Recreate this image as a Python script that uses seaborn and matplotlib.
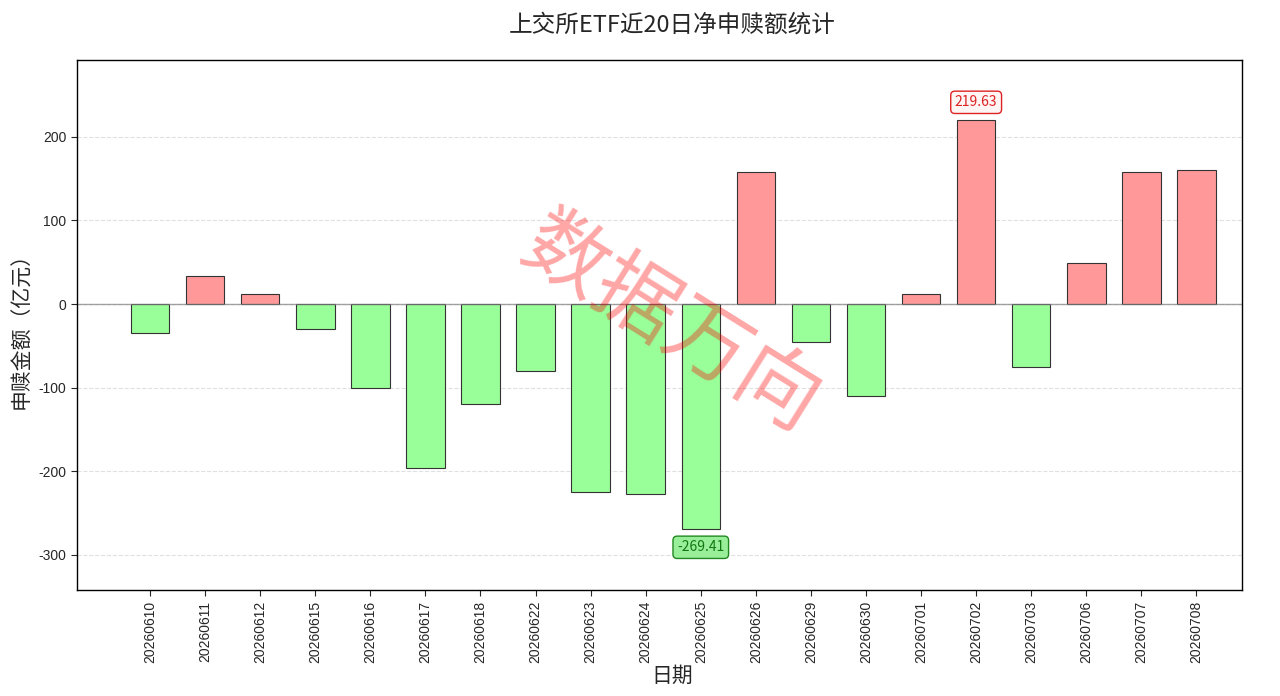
import numpy as np
import pandas as pd
import matplotlib
matplotlib.use("Agg")
import matplotlib.pyplot as plt
import seaborn as sns

sns.set_style("white")
plt.rcParams['font.family'] = ['Noto Sans CJK SC', 'DejaVu Sans']
plt.rcParams['axes.unicode_minus'] = False

dates = ['20260610', '20260611', '20260612', '20260615', '20260616',
         '20260617', '20260618', '20260622', '20260623', '20260624',
         '20260625', '20260626', '20260629', '20260630', '20260701',
         '20260702', '20260703', '20260706', '20260707', '20260708']
net_flow = [-35.0, 33.5, 12.5, -30.0, -100.5,
            -196.5, -119.5, -80.0, -225.0, -227.5,
            -269.41, 158.5, -45.5, -110.0, 12.5,
            219.63, -75.0, 49.0, 158.5, 160.5]

df = pd.DataFrame({'date': dates, 'flow': net_flow})
colors = ['#FF9999' if v > 0 else '#99FF99' for v in df['flow']]

fig, ax = plt.subplots(figsize=(12.8, 6.96), dpi=100)
sns.barplot(data=df, x='date', y='flow', hue='date', palette=colors,
            legend=False, width=0.7, edgecolor='#333333', linewidth=0.8,
            saturation=1, ax=ax)

ax.axhline(0, color='gray', linewidth=1, alpha=0.7)
ax.yaxis.grid(True, linestyle='--', color='#cccccc', alpha=0.6)
ax.set_axisbelow(True)
for s in ax.spines.values():
    s.set_color('black')
    s.set_linewidth(1)

n = len(dates)
ax.set_xlim(-1.33, n - 1 + 0.82)
ax.set_ylim(min(net_flow) * 1.271, max(net_flow) * 1.33)
ax.set_yticks([-300, -200, -100, 0, 100, 200])

ax.tick_params(axis='both', which='both', bottom=True, left=True, length=4, labelsize=10)
for lab in ax.get_xticklabels() + ax.get_yticklabels():
    lab.set_family(['Liberation Sans', 'DejaVu Sans'])
plt.setp(ax.get_xticklabels(), rotation=90)

ax.set_title('上交所ETF近20日净申赎额统计', fontsize=17, pad=20, x=0.511)
ax.set_xlabel('日期', fontsize=15)
ax.xaxis.set_label_coords(0.511, -0.14)
ax.set_ylabel('申赎金额（亿元）', fontsize=15)

imax = int(np.argmax(net_flow))
imin = int(np.argmin(net_flow))
ax.annotate(f'{net_flow[imax]:.2f}', xy=(imax, net_flow[imax]), xytext=(0, 8),
            textcoords='offset points', ha='center', va='bottom', fontsize=10,
            color='#dd2222',
            bbox=dict(boxstyle='round,pad=0.3', fc='#fff5f5', ec='#dd2222', lw=1))
ax.annotate(f'{net_flow[imin]:.2f}', xy=(imin, net_flow[imin]), xytext=(0, -8),
            textcoords='offset points', ha='center', va='top', fontsize=10,
            color='#117711',
            bbox=dict(boxstyle='round,pad=0.3', fc='#99ee99', ec='#228822', lw=1))

ax.text(0.51, 0.5, '数据万向', transform=ax.transAxes, fontsize=60,
        color='red', alpha=0.35, rotation=-32, ha='center', va='center')

plt.subplots_adjust(left=0.06, right=0.97, top=0.914, bottom=0.152)
plt.savefig('out.png', dpi=100)
